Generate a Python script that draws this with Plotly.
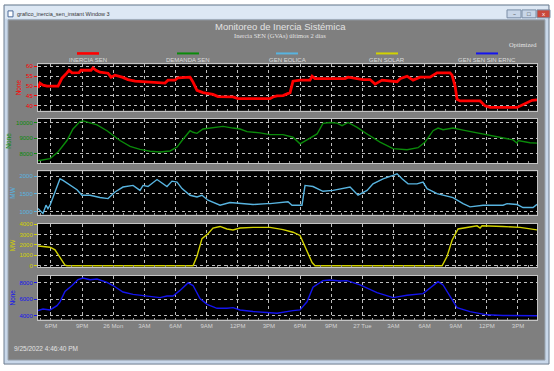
import pandas as pd
import plotly.graph_objects as go
from plotly.subplots import make_subplots

W, H = 554, 371
START = "2022-09-25 16:45"
END = "2022-09-27 16:50"

# ---- data (hours elapsed since START, value) ----
inercia_h = [0, 0.19, 0.48, 0.87, 1.93, 2.31, 2.79, 2.99, 3.28, 3.95, 4.14, 5.11, 5.30, 5.59, 5.97,
             6.75, 7.04, 7.42, 8.10, 8.67, 9.35, 10.50, 11.76, 12.24, 12.53, 13.20, 13.49, 14.65,
             14.94, 15.32, 15.90, 16.86, 17.35, 18.79, 19.27, 22.07, 22.36, 22.65, 23.03, 23.61,
             24.29, 24.57, 25.25, 26.21, 26.41, 26.69, 29.59, 29.88, 31.32, 32.00, 32.48, 33.15,
             34.60, 34.89, 35.56, 36.14, 36.81, 37.78, 38.45, 39.70, 39.90, 40.19, 40.38, 40.67,
             42.60, 43.08, 43.56, 46.16, 46.74, 47.61, 48.09]
inercia_v = [49, 51.5, 50.5, 50, 50, 54, 56.7, 58, 56.7, 56.8, 58, 58, 59.2, 58, 57,
             56.5, 54.5, 55.5, 54.5, 53.3, 52.5, 52.2, 52, 51.5, 53, 53, 54.2, 54.5,
             52, 47.8, 46.7, 45.8, 44.7, 44.5, 43.7, 43.7, 43.7, 44.5, 45, 45.2,
             46.7, 52.5, 53, 53, 55, 53.8, 53.8, 54.5, 53.3, 53.3, 51, 53,
             52.2, 53.7, 55, 53, 54.5, 54.5, 56.7, 56.7, 55.5, 50, 43.3, 42.5,
             42.5, 40, 39.2, 39.2, 40.8, 42.8, 43]

demanda_h = [0, 1.16, 1.93, 2.79, 3.37, 4.05, 4.34, 5.01, 5.69, 6.65, 7.90, 8.87, 9.83, 10.79,
             11.76, 12.72, 13.40, 13.88, 14.36, 14.65, 14.94, 15.32, 15.90, 16.86, 17.83, 18.79,
             19.47, 20.14, 21.39, 22.36, 23.61, 24.57, 25.25, 25.92, 26.89, 27.46, 28.14, 28.81,
             29.30, 29.88, 30.75, 31.71, 32.96, 34.21, 35.56, 36.62, 37.30, 38.07, 38.55, 39.03,
             39.99, 40.96, 42.60, 44.24, 45.78, 46.16, 46.26, 47.41, 48.09]
demanda_v = [7540, 7680, 8100, 8840, 9580, 10060, 10100, 9960, 9850, 9470, 8840, 8460, 8270, 8150,
             8100, 8170, 8420, 8840, 9260, 9470, 9370, 9300, 9580, 9680, 9750, 9640,
             9580, 9410, 9330, 9220, 9220, 9050, 8630, 8880, 9260, 9940, 10000, 9960,
             9790, 10000, 9680, 9260, 8740, 8320, 8250, 8380, 8740, 9470, 9640, 9530,
             9640, 9510, 9300, 9050, 8880, 8670, 8840, 8700, 8670]

eolica_h = [0, 0.19, 0.48, 0.77, 0.96, 1.16, 1.45, 1.83, 2.12, 2.41, 3.08, 3.76, 4.24, 5.01, 5.97,
            6.75, 7.42, 8.19, 9.16, 9.83, 10.12, 10.60, 11.47, 12.05, 12.43, 12.91, 13.40, 13.88,
            14.65, 15.32, 15.80, 16.38, 17.54, 18.50, 19.47, 20.72, 22.07, 22.36, 24.09, 24.48,
            25.44, 25.73, 26.50, 27.46, 28.43, 30.07, 30.84, 31.71, 32.28, 33.25, 34.21, 34.60,
            35.08, 35.66, 36.52, 37.10, 37.49, 38.45, 39.99, 40.96, 41.63, 42.89, 44.81, 45.20,
            46.16, 46.74, 47.70, 48.09]
eolica_v = [1090, 1045, 955, 1185, 1090, 1185, 1415, 1695, 1925, 1880, 1740, 1620, 1465, 1465, 1400,
            1370, 1555, 1695, 1740, 1600, 1740, 1710, 1905, 1785, 1710, 1860, 1835, 1650,
            1465, 1415, 1465, 1325, 1185, 1260, 1230, 1205, 1230, 1230, 1280, 1185,
            1185, 1740, 1710, 1575, 1600, 1695, 1465, 1600, 1785, 1925, 2020, 2065,
            1925, 1785, 1785, 1835, 1650, 1510, 1400, 1230, 1140, 1185, 1185, 1230,
            1205, 1120, 1120, 1210]

solar_h = [0, 1.16, 1.64, 2.12, 2.60, 2.79, 14.94, 15.32, 15.80, 16.38, 16.86, 17.54, 18.21, 18.79,
           19.47, 20.72, 22.36, 23.61, 24.57, 25.25, 25.92, 26.41, 26.69, 38.94, 39.42, 39.90,
           40.48, 41.63, 42.31, 42.60, 42.79, 44.81, 46.45, 48.09]
solar_v = [1900, 1785, 1540, 770, 60, 0, 0, 920, 2615, 3080, 3630, 3785, 3540, 3450,
           3630, 3690, 3690, 3480, 3230, 2920, 1385, 310, 0, 0, 920, 2460,
           3540, 3750, 3845, 3630, 3845, 3785, 3690, 3450]

no_ernc_h = [0, 0.48, 1.16, 1.83, 2.12, 2.60, 3.28, 3.85, 4.34, 5.01, 5.69, 6.65, 7.23, 8.19, 9.16,
             10.12, 11.08, 11.76, 12.43, 13.01, 13.68, 14.46, 14.94, 15.61, 16.29, 17.25, 18.21,
             18.79, 19.47, 20.72, 22.07, 23.03, 24.57, 25.25, 25.92, 26.50, 27.46, 28.14, 29.10,
             29.78, 31.03, 32.67, 34.21, 35.56, 37.10, 38.07, 38.55, 39.03, 39.70, 40.38, 41.63,
             43.27, 44.81, 46.45, 48.09]
no_ernc_v = [4600, 4800, 4680, 5200, 5680, 6960, 7680, 8400, 8600, 8400, 8480, 8080, 7680, 6880, 6600,
             6480, 6360, 6200, 6400, 6400, 7080, 8000, 7680, 6080, 5360, 4880, 4880,
             4960, 4680, 4480, 4360, 4280, 4600, 4680, 5680, 7480, 8280, 8360, 8240,
             8280, 7760, 6800, 6200, 6480, 6680, 7680, 8160, 7760, 6280, 4960, 4480,
             4080, 4000, 3960, 3960]

series_names = ["INERCIA SEN", "DEMANDA SEN", "GEN EOLICA", "GEN SOLAR", "GEN SEN SIN ERNC"]
series_colors = ["#ff0000", "#0a8a0a", "#58b4e0", "#d2d200", "#1414ee"]
y_titles = ["None", "None", "MW", "MW", "None"]
y_ranges = [[37.5, 61], [7380, 10240], [920, 2140], [-130, 4060], [3500, 8850]]
y_dticks = [5, 1000, 500, 1000, 2000]

tick_times = ["2022-09-25 18:00", "2022-09-25 21:00", "2022-09-26 00:00", "2022-09-26 03:00",
              "2022-09-26 06:00", "2022-09-26 09:00", "2022-09-26 12:00", "2022-09-26 15:00",
              "2022-09-26 18:00", "2022-09-26 21:00", "2022-09-27 00:00", "2022-09-27 03:00",
              "2022-09-27 06:00", "2022-09-27 09:00", "2022-09-27 12:00", "2022-09-27 15:00"]
tick_labels = ["6PM", "9PM", "26 Mon", "3AM", "6AM", "9AM", "12PM", "3PM",
               "6PM", "9PM", "27 Tue", "3AM", "6AM", "9AM", "12PM", "3PM"]

all_h = [inercia_h, demanda_h, eolica_h, solar_h, no_ernc_h]
all_v = [inercia_v, demanda_v, eolica_v, solar_v, no_ernc_v]
widths = [2.8, 1.4, 1.4, 1.4, 1.4]

def px(x):
    return x / W

def py(y):
    return 1 - y / H

start = pd.Timestamp(START)
fig = make_subplots(rows=5, cols=1, shared_xaxes=True)
for i in range(5):
    t = start + pd.to_timedelta(all_h[i], unit="h")
    fig.add_trace(go.Scatter(x=t, y=all_v[i], mode="lines", name=series_names[i],
                             line=dict(color=series_colors[i], width=widths[i]),
                             showlegend=False), row=i + 1, col=1)

panel_px = [(63, 110), (118, 163), (171, 215), (224, 268), (277, 321)]
FONT = "Liberation Sans, Arial, sans-serif"

shapes = []
# window frame
shapes.append(dict(type="rect", xref="paper", yref="paper", x0=px(4), x1=px(549), y0=py(366), y1=py(3),
                   fillcolor="#c9d8ea", line=dict(color="#6d7d8f", width=1), layer="below"))
shapes.append(dict(type="rect", xref="paper", yref="paper", x0=px(5), x1=px(548), y0=py(17), y1=py(4),
                   fillcolor="#dde8f4", line=dict(width=0), layer="below"))
shapes.append(dict(type="rect", xref="paper", yref="paper", x0=px(8), x1=px(545), y0=py(362), y1=py(18),
                   fillcolor="#7f7f7f", line=dict(color="#9aa6b2", width=1), layer="below"))

for i in range(5):
    top, bot = panel_px[i]
    ax = "" if i == 0 else str(i + 1)
    # black plotting area
    shapes.append(dict(type="rect", xref="paper", yref="paper", x0=px(38), x1=px(537),
                       y0=py(bot), y1=py(top), fillcolor="#000000", line=dict(width=0), layer="below"))
    fig.layout["yaxis" + ax].update(
        domain=[py(bot), py(top)], range=y_ranges[i], dtick=y_dticks[i], tickformat="d",
        showgrid=True, gridcolor="#bdbdbd", griddash="dot", gridwidth=1, zeroline=False,
        showline=True, mirror=True, linecolor="#c4c4c4", linewidth=1,
        ticks="outside", ticklen=3, tickcolor=series_colors[i],
        tickfont=dict(size=6, color=series_colors[i], family=FONT),
        title=dict(text=y_titles[i], font=dict(size=6.5, color=series_colors[i], family=FONT), standoff=3),
        fixedrange=True)
    fig.layout["xaxis" + ax].update(
        domain=[px(38), px(537)], range=[START, END], type="date",
        tickvals=tick_times, ticktext=tick_labels, showticklabels=(i == 4),
        showgrid=True, gridcolor="#bdbdbd", griddash="dot", gridwidth=1, zeroline=False,
        showline=True, mirror=True, linecolor="#c4c4c4", linewidth=1, ticks="",
        minor=dict(dtick=3600000, ticks="inside", ticklen=2, tickcolor="#9a9a9a", showgrid=False),
        tickfont=dict(size=6, color="#d4d4d4", family=FONT), fixedrange=True)

# window buttons
for x0, x1, col in [(507, 521, "#c8d6e8"), (522, 536, "#c8d6e8"), (537, 550, "#c9483c")]:
    shapes.append(dict(type="rect", xref="paper", yref="paper", x0=px(x0), x1=px(x1), y0=py(16), y1=py(8),
                       fillcolor=col, line=dict(color="#7a8ea6", width=1), layer="above"))
# icon
shapes.append(dict(type="rect", xref="paper", yref="paper", x0=px(8), x1=px(13), y0=py(15), y1=py(9),
                   fillcolor="#ffffff", line=dict(color="#4a6a9a", width=1)))

annotations = [
    dict(text="grafico_inercia_sen_instant Window 3", x=px(15), y=py(12), xanchor="left", yanchor="middle",
         font=dict(size=5.5, color="#333333", family=FONT)),
    dict(text="–", x=px(514), y=py(12), xanchor="center", yanchor="middle", font=dict(size=6, color="#333")),
    dict(text="□", x=px(529), y=py(12), xanchor="center", yanchor="middle", font=dict(size=6, color="#333")),
    dict(text="x", x=px(543.5), y=py(12), xanchor="center", yanchor="middle", font=dict(size=6, color="#fff")),
    dict(text="Monitoreo de Inercia Sistémica", x=px(280), y=py(25), xanchor="center", yanchor="middle",
         font=dict(size=9.5, color="#e2e2e2", family=FONT)),
    dict(text="Inercia SEN (GVAs) últimos 2 días", x=px(280), y=py(34.5), xanchor="center", yanchor="middle",
         font=dict(size=6.5, color="#e2e2e2", family="Liberation Serif, serif")),
    dict(text="Optimized", x=px(539), y=py(43), xanchor="right", yanchor="middle",
         font=dict(size=6.5, color="#e2e2e2", family="Liberation Serif, serif")),
    dict(text="9/25/2022 4:46:40 PM", x=px(12), y=py(350), xanchor="left", yanchor="middle",
         font=dict(size=6.5, color="#e2e2e2", family=FONT)),
]
legend_cx = [88, 188, 287, 387, 487]
for i in range(5):
    cx = legend_cx[i]
    shapes.append(dict(type="line", xref="paper", yref="paper", x0=px(cx - 11), x1=px(cx + 11),
                       y0=py(52), y1=py(52), line=dict(color=series_colors[i], width=2 if i else 2.6)))
    annotations.append(dict(text=series_names[i], x=px(cx), y=py(59), xanchor="center", yanchor="middle",
                            font=dict(size=6, color="#dcdcdc", family=FONT)))
for a in annotations:
    a.update(xref="paper", yref="paper", showarrow=False)

fig.update_layout(width=W, height=H, autosize=False, margin=dict(l=0, r=0, t=0, b=0),
                  paper_bgcolor="#ffffff", plot_bgcolor="rgba(0,0,0,0)", showlegend=False,
                  shapes=shapes, annotations=annotations)
fig.write_html("out.html", config={"displayModeBar": False},
               post_script="document.body.style.margin='0';document.body.style.padding='0';")
